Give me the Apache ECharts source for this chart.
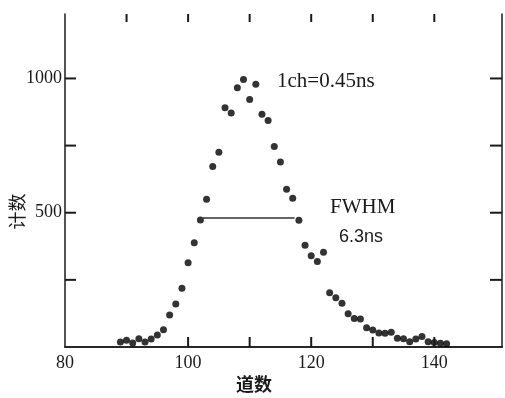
<!DOCTYPE html>
<html>
<head>
<meta charset="utf-8">
<script src="https://cdn.jsdelivr.net/npm/echarts@6/dist/echarts.min.js"></script>
<style>
  html, body { margin: 0; padding: 0; background: #fff; }
  #chart { width: 505px; height: 398px; }
</style>
</head>
<body>
<div id="chart"></div>
<script>
// channel numbers (道数) and counts (计数)
const channels = [89, 90, 91, 92, 93, 94, 95, 96, 97, 98,
  99, 100, 101, 102, 103, 104, 105, 106, 107, 108,
  109, 110, 111, 112, 113, 114, 115, 116, 117, 118,
  119, 120, 121, 122, 123, 124, 125, 126, 127, 128,
  129, 130, 131, 132, 133, 134, 135, 136, 137, 138,
  139, 140, 141, 142];
const counts = [19, 25, 15, 31, 19, 30, 45, 64, 119, 160,
  219, 314, 388, 473, 550, 672, 725, 891, 871, 965,
  996, 922, 978, 867, 843, 747, 689, 587, 554, 472,
  379, 340, 318, 353, 202, 183, 163, 124, 106, 104,
  72, 63, 52, 51, 55, 33, 31, 20, 30, 39,
  20, 17, 14, 12];

// half-maximum bar
const fwhmX = [102.4, 117.3];
const fwhmLevel = 480;

const xLabels = [80, 100, 120, 140];
const yLabels = [500, 1000];
const xTicksBottom = [100, 110, 120, 130, 140];
const xTicksTop = [90, 100, 110, 120, 130, 140];
const yTicks = [250, 500, 750, 1000];

const X_MIN = 80, X_MAX = 151, Y_MIN = 0, Y_MAX = 1240;

const ink = '#1a1a1a';
const serif = '"Liberation Serif", "DejaVu Serif", serif';

const myChart = echarts.init(document.getElementById('chart'));

const boxLine = { show: true, lineStyle: { color: ink, width: 1.5 } };

const option = {
  animation: false,
  backgroundColor: '#fff',
  grid: { left: 65, right: 2, top: 14, bottom: 51 },
  xAxis: [
    {
      type: 'value', min: X_MIN, max: X_MAX, interval: 10, position: 'bottom',
      axisLine: boxLine,
      axisTick: { show: false },
      axisLabel: {
        margin: 7, color: ink, fontSize: 18, fontFamily: serif,
        formatter: v => xLabels.indexOf(v) >= 0 ? String(v) : ''
      },
      splitLine: { show: false }
    },
    {
      type: 'value', min: X_MIN, max: X_MAX, position: 'top',
      axisLine: boxLine,
      axisTick: { show: false },
      axisLabel: { show: false },
      splitLine: { show: false }
    }
  ],
  yAxis: [
    {
      type: 'value', min: Y_MIN, max: Y_MAX, interval: 250, position: 'left',
      axisLine: boxLine,
      axisTick: { show: false },
      axisLabel: {
        margin: 3, color: ink, fontSize: 18, fontFamily: serif,
        formatter: v => yLabels.indexOf(v) >= 0 ? String(v) : ''
      },
      splitLine: { show: false }
    },
    {
      type: 'value', min: Y_MIN, max: Y_MAX, position: 'right',
      axisLine: boxLine,
      axisTick: { show: false },
      axisLabel: { show: false },
      splitLine: { show: false }
    }
  ],
  series: [
    {
      name: 'counts',
      type: 'scatter',
      symbol: 'circle',
      symbolSize: 7,
      itemStyle: { color: '#000' },
      data: channels.map((c, i) => [c, counts[i]])
    },
    {
      name: 'fwhm',
      type: 'line',
      showSymbol: false,
      symbol: 'none',
      lineStyle: { color: '#333', width: 1.5 },
      data: fwhmX.map(x => [x, fwhmLevel])
    }
  ],
  graphic: [
    { type: 'text', x: 277, y: 81,
      style: { text: '1ch=0.45ns', font: '21px ' + serif, fill: ink, align: 'left', verticalAlign: 'middle' } },
    { type: 'text', x: 330, y: 207,
      style: { text: 'FWHM', font: '21px ' + serif, fill: ink, align: 'left', verticalAlign: 'middle' } },
    { type: 'text', x: 339, y: 237,
      style: { text: '6.3ns', font: '18px "Liberation Sans", Arial, sans-serif', fill: ink, align: 'left', verticalAlign: 'middle' } },
    { type: 'text', x: 17.5, y: 211.5, rotation: Math.PI / 2,
      style: { text: '计数', font: '18px "Noto Sans CJK SC", sans-serif', fill: ink, align: 'center', verticalAlign: 'middle' } },
    { type: 'text', x: 254, y: 384.5,
      style: { text: '道数', font: 'bold 18px "Noto Sans CJK SC", sans-serif', fill: ink, align: 'center', verticalAlign: 'middle' } }
  ]
};

option && myChart.setOption(option);

// inward tick marks, positioned through the chart's own scales
function tick(point, dx, dy) {
  const p = myChart.convertToPixel({ gridIndex: 0 }, point);
  return {
    type: 'line', z: 100, silent: true,
    shape: { x1: p[0], y1: p[1], x2: p[0] + dx, y2: p[1] + dy },
    style: { stroke: ink, lineWidth: 2 }
  };
}
const ticks = []
  .concat(xTicksBottom.map(v => tick([v, Y_MIN], 0, -10)))
  .concat(xTicksTop.map(v => tick([v, Y_MAX], 0, 8)))
  .concat(yTicks.map(v => tick([X_MIN, v], 11, 0)))
  .concat(yTicks.map(v => tick([X_MAX, v], -12, 0)));
myChart.setOption({ graphic: option.graphic.concat(ticks) });
</script>
</body>
</html>
